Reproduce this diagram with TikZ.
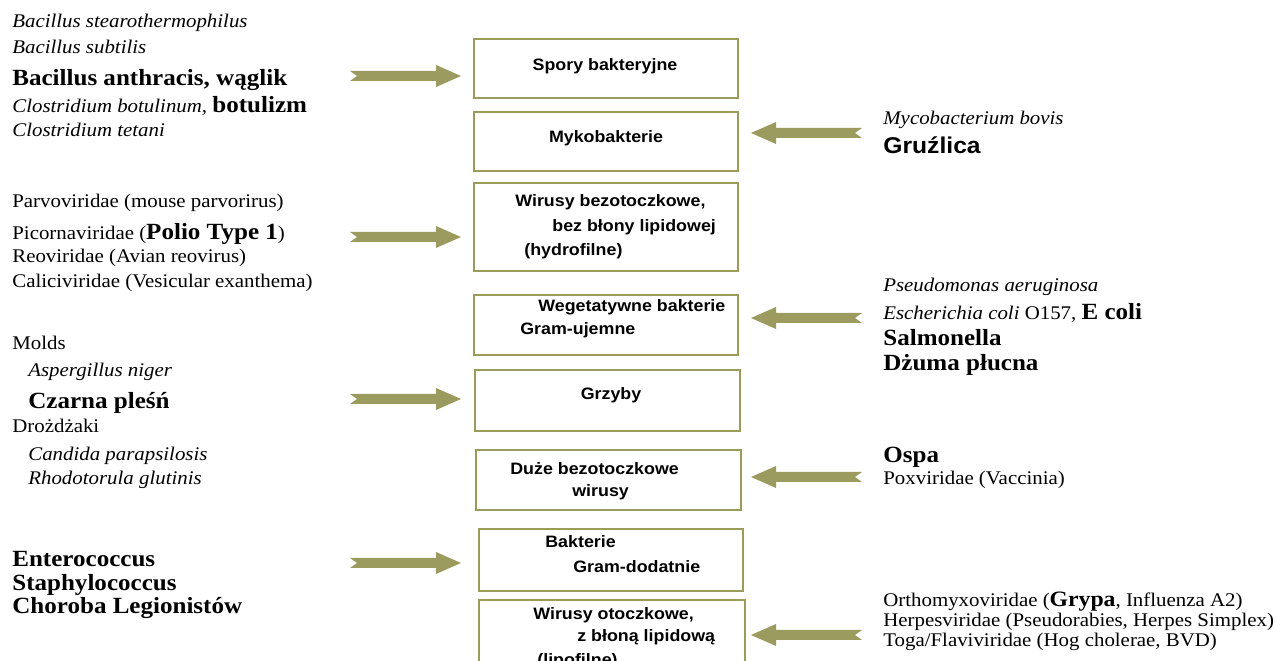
\documentclass[tikz,border=0pt]{standalone}
\usepackage{fontspec}
\setmainfont{Liberation Serif}[FakeStretch=1.08]
\setsansfont{Liberation Sans}[FakeStretch=1.08]
\definecolor{oliwka}{RGB}{155,155,95}
\definecolor{ramka}{RGB}{155,155,90}

% duzy pogrubiony tekst
\newcommand{\duzy}[1]{{\fontsize{13.2}{15}\selectfont\bfseries #1}}
% strzalka blokowa: #1 = ogon, #2 = kierunek (1 w prawo, -1 w lewo)
\newcommand{\strzalka}[2]{%
  \fill[oliwka, shift={#1}, xscale=#2] (0,-5) -- (86,-5) -- (86,-11) -- (111,0)
    -- (86,11) -- (86,5) -- (0,5) -- (7,0) -- cycle;}

\begin{document}
\begin{tikzpicture}[x=0.02cm, y=-0.02cm,
    linia/.style={anchor=base west, inner sep=0pt, font=\fontsize{11}{13}\selectfont},
    ramka/.style={draw=ramka, line width=1pt, inner sep=0pt, anchor=north west},
    wpis/.style={anchor=base west, inner sep=0pt, font=\sffamily\bfseries\fontsize{9.4}{11}\selectfont}]

    \useasboundingbox (0,0) rectangle (1276,661);

    % ==========================================
    % RAMKI (srodkowa kolumna)
    % ==========================================

    \node[ramka, minimum width=264*0.02cm, minimum height=59*0.02cm] (spory) at (473,38) {};
    \node[ramka, minimum width=264*0.02cm, minimum height=59*0.02cm] (myko) at (473,111) {};
    \node[ramka, minimum width=264*0.02cm, minimum height=88*0.02cm] (bezotocz) at (473,182) {};
    \node[ramka, minimum width=264*0.02cm, minimum height=60*0.02cm] (wegetat) at (473,294) {};
    \node[ramka, minimum width=265*0.02cm, minimum height=61*0.02cm] (grzyby) at (474,369) {};
    \node[ramka, minimum width=265*0.02cm, minimum height=60*0.02cm] (duze) at (475,449) {};
    \node[ramka, minimum width=264*0.02cm, minimum height=62*0.02cm] (gramdod) at (478,528) {};
    \node[ramka, minimum width=266*0.02cm, minimum height=100*0.02cm] (otocz) at (478,599) {};

    % napisy w ramkach
    \node[wpis, anchor=base] (t1) at (605,71) {Spory bakteryjne};
    \node[wpis, anchor=base] (t2) at (606,143) {Mykobakterie};
    \node[wpis] (t3a) at (515,207) {Wirusy bezotoczkowe,};
    \node[wpis] (t3b) at (552,232) {bez błony lipidowej};
    \node[wpis] (t3c) at (524,256) {(hydrofilne)};
    \node[wpis] (t4a) at (538,312) {Wegetatywne bakterie};
    \node[wpis] (t4b) at (520,335) {Gram-ujemne};
    \node[wpis, anchor=base] (t5) at (611,400) {Grzyby};
    \node[wpis] (t6a) at (510,475) {Duże bezotoczkowe};
    \node[wpis] (t6b) at (572,497) {wirusy};
    \node[wpis] (t7a) at (545,548) {Bakterie};
    \node[wpis] (t7b) at (573,573) {Gram-dodatnie};
    \node[wpis] (t8a) at (533,620) {Wirusy otoczkowe,};
    \node[wpis] (t8b) at (577,642) {z błoną lipidową};
    \node[wpis] (t8c) at (537,666) {(lipofilne)};

    % ==========================================
    % LEWA KOLUMNA
    % ==========================================

    \node[linia] (bst) at (12,28) {\textit{Bacillus stearothermophilus}};
    \node[linia] (bsu) at (12,54) {\textit{Bacillus subtilis}};
    \node[linia] (ban) at (12,86) {\duzy{Bacillus anthracis, wąglik}};
    \node[linia] (cbo) at (12,113) {\textit{Clostridium botulinum,} \duzy{botulizm}};
    \node[linia] (cte) at (12,137) {\textit{Clostridium tetani}};

    \node[linia] (parvo) at (12,208) {Parvoviridae (mouse parvorirus)};
    \node[linia] (picorna) at (12,240) {Picornaviridae (\duzy{Polio Type 1})};
    \node[linia] (reo) at (12,263) {Reoviridae (Avian reovirus)};
    \node[linia] (calici) at (12,288) {Caliciviridae (Vesicular exanthema)};

    \node[linia] (molds) at (12,350) {Molds};
    \node[linia] (asper) at (28,377) {\textit{Aspergillus niger}};
    \node[linia] (czarna) at (28,409) {\duzy{Czarna pleśń}};
    \node[linia] (drozdz) at (12,433) {Drożdżaki};
    \node[linia] (candida) at (28,461) {\textit{Candida parapsilosis}};
    \node[linia] (rhodo) at (28,485) {\textit{Rhodotorula glutinis}};

    \node[linia] (entero) at (12,567) {\duzy{Enterococcus}};
    \node[linia] (staph) at (12,591) {\duzy{Staphylococcus}};
    \node[linia] (legion) at (12,614) {\duzy{Choroba Legionistów}};

    % ==========================================
    % PRAWA KOLUMNA
    % ==========================================

    \node[linia] (mbov) at (883,125) {\textit{Mycobacterium bovis}};
    \node[linia, font=\sffamily\bfseries\fontsize{13}{15}\selectfont] (gruz) at (883,154) {Gruźlica};
    \node[linia] (pseudo) at (883,292) {\textit{Pseudomonas aeruginosa}};
    \node[linia] (ecoli) at (883,320) {\textit{Escherichia coli} O157, \duzy{E coli}};
    \node[linia] (salm) at (883,346) {\duzy{Salmonella}};
    \node[linia] (dzuma) at (883,371) {\duzy{Dżuma płucna}};
    \node[linia] (ospa) at (883,463) {\duzy{Ospa}};
    \node[linia] (pox) at (883,485) {Poxviridae (Vaccinia)};
    \node[linia] (ortho) at (883,607) {Orthomyxoviridae ({\fontsize{12.5}{14}\selectfont\bfseries Grypa}, Influenza A2)};
    \node[linia] (herpes) at (883,627) {Herpesviridae (Pseudorabies, Herpes Simplex)};
    \node[linia] (toga) at (883,647) {Toga/Flaviviridae (Hog cholerae, BVD)};

    % ==========================================
    % STRZALKI
    % ==========================================

    % w prawo (do ramek)
    \coordinate (sp) at (350,76);
    \coordinate (sw) at (350,237);
    \coordinate (sg) at (350,399);
    \coordinate (sb) at (350,563);
    \strzalka{(sp)}{1}
    \strzalka{(sw)}{1}
    \strzalka{(sg)}{1}
    \strzalka{(sb)}{1}

    % w lewo (do ramek)
    \coordinate (sm) at (862,133);
    \coordinate (sn) at (862,318);
    \coordinate (so) at (862,477);
    \coordinate (sl) at (862,635);
    \strzalka{(sm)}{-1}
    \strzalka{(sn)}{-1}
    \strzalka{(so)}{-1}
    \strzalka{(sl)}{-1}

\end{tikzpicture}
\end{document}
